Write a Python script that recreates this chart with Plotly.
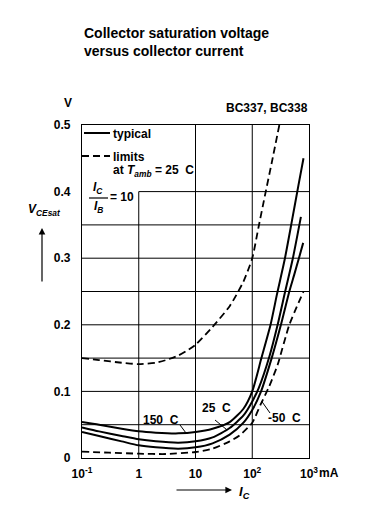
import plotly.graph_objects as go

# ---------------- data ----------------
IC_150 = [0.1, 0.2, 0.5, 1, 2, 5, 10, 20, 40, 70, 100, 145, 210, 273, 373, 500, 650, 800]
V_150 = [0.054, 0.050, 0.044, 0.040, 0.038, 0.037, 0.039, 0.044, 0.054, 0.074, 0.100, 0.150, 0.200, 0.246, 0.298, 0.356, 0.409, 0.450]

IC_25 = [0.1, 0.2, 0.5, 1, 2, 5, 10, 20, 40, 70, 100, 130, 200, 280, 380, 520, 720]
V_25 = [0.046, 0.040, 0.033, 0.028, 0.025, 0.023, 0.025, 0.031, 0.045, 0.064, 0.085, 0.105, 0.152, 0.200, 0.250, 0.300, 0.362]

IC_M50 = [0.1, 0.2, 0.5, 1, 2, 5, 10, 20, 40, 70, 100, 140, 220, 320, 450, 548, 664, 790]
V_M50 = [0.039, 0.033, 0.025, 0.019, 0.016, 0.014, 0.016, 0.022, 0.035, 0.053, 0.072, 0.098, 0.150, 0.200, 0.250, 0.275, 0.300, 0.323]

IC_LIM_LO = [0.1, 0.3, 1, 3, 10, 20, 40, 60, 100, 140, 200, 280, 450, 800]
V_LIM_LO = [0.0095, 0.008, 0.0065, 0.006, 0.009, 0.014, 0.025, 0.034, 0.053, 0.080, 0.108, 0.140, 0.200, 0.250]

IC_LIM_HI = [0.1, 0.2, 0.5, 1, 2, 3, 5, 7, 10, 20, 40, 70, 100, 130, 170, 220, 300]
V_LIM_HI = [0.150, 0.147, 0.143, 0.141, 0.143, 0.147, 0.154, 0.161, 0.170, 0.197, 0.228, 0.265, 0.300, 0.348, 0.397, 0.443, 0.500]

X_TICKS = [0.1, 1, 10, 100, 1000]
X_TICK_TEXT = ["10<sup>-1</sup>", "1", "10", "10<sup>2</sup>", "10<sup>3</sup>"]
Y_TICKS = [0, 0.1, 0.2, 0.3, 0.4, 0.5]
Y_TICK_TEXT = ["0", "0.1", "0.2", "0.3", "0.4", "0.5"]

GRID_X_FULL = [10, 100]          # full-height vertical grid lines
GRID_X_PART = [1]                # vertical line stopping at the legend box
GRID_Y_FULL = [0.05, 0.1, 0.15, 0.2, 0.25, 0.3, 0.35]
GRID_Y_PART = [0.4]              # horizontal line starting right of the legend box
X_MIN, X_MAX = 0.1, 1000
Y_MIN, Y_MAX = 0.0, 0.5
LEGEND_BOX_X, LEGEND_BOX_Y = 1, 0.4

# ---------------- geometry helpers ----------------
OFF = 8                       # default page margin of the html body
W, H = 374 - OFF, 528 - OFF
PLOT_L, PLOT_R, PLOT_T, PLOT_B = 82, 309, 125, 458   # page pixels
ML, MR, MT, MB = PLOT_L - OFF, W - (PLOT_R - OFF), PLOT_T - OFF, H - (PLOT_B - OFF)
PW, PH = W - ML - MR, H - MT - MB


def px(x):
    return (x - OFF - ML) / PW


def py(y):
    return (H - MB - (y - OFF)) / PH


FAM = "Liberation Sans, Arial, Helvetica, sans-serif"


def font(size=12):
    return dict(family=FAM, size=size, color="black", weight="bold")


fig = go.Figure()

SOLID = dict(color="black", width=2, shape="spline", smoothing=0.6)
DASHED = dict(color="black", width=1.8, dash="7px,4px", shape="spline", smoothing=0.6)

for xs, ys, ln in [
    (IC_LIM_HI, V_LIM_HI, DASHED),
    (IC_LIM_LO, V_LIM_LO, DASHED),
    (IC_150, V_150, SOLID),
    (IC_25, V_25, SOLID),
    (IC_M50, V_M50, SOLID),
]:
    fig.add_trace(go.Scatter(x=xs, y=ys, mode="lines", line=ln,
                             showlegend=False, hoverinfo="skip"))

shapes = []
GRID = dict(color="black", width=1)
for gx in GRID_X_FULL:
    shapes.append(dict(type="line", xref="x", yref="y", x0=gx, x1=gx,
                       y0=Y_MIN, y1=Y_MAX, line=GRID, layer="below"))
for gx in GRID_X_PART:
    shapes.append(dict(type="line", xref="x", yref="y", x0=gx, x1=gx,
                       y0=Y_MIN, y1=LEGEND_BOX_Y, line=GRID, layer="below"))
for gy in GRID_Y_FULL:
    shapes.append(dict(type="line", xref="x", yref="y", x0=X_MIN, x1=X_MAX,
                       y0=gy, y1=gy, line=GRID, layer="below"))
for gy in GRID_Y_PART:
    shapes.append(dict(type="line", xref="x", yref="y", x0=LEGEND_BOX_X, x1=X_MAX,
                       y0=gy, y1=gy, line=GRID, layer="below"))


def pline(x0, y0, x1, y1, width=1, dash=None):
    ln = dict(color="black", width=width)
    if dash:
        ln["dash"] = dash
    shapes.append(dict(type="line", xref="paper", yref="paper",
                       x0=px(x0), y0=py(y0), x1=px(x1), y1=py(y1), line=ln))


# legend samples
pline(84, 133, 110, 133, width=2)
pline(82, 156, 110, 156, width=1.8, dash="7px,4px")
# fraction bar
pline(89, 198, 108, 198, width=1.2)
# label pointers
pline(180, 425, 186, 433, width=1)
pline(215, 420, 226.5, 429.5, width=1)
pline(261.5, 401, 270, 413, width=1)

ann = []


def text(x, y, s, size=12, xanchor="center"):
    ann.append(dict(x=px(x), y=py(y), xref="paper", yref="paper", text=s,
                    showarrow=False, xanchor=xanchor, yanchor="middle",
                    font=font(size)))


text(82, 33.5, "Collector saturation voltage", 14, "left")
text(82, 50.5, "versus collector current", 14, "left")
text(310, 108, "BC337, BC338", 12, "right")
text(68, 103, "V", 12)
text(44, 210, "<i>V</i><sub><i>CEsat</i></sub>", 12)
text(244, 492, "<i>I</i><sub><i>C</i></sub>", 13)
text(317, 473, "mA", 12, "left")
text(111, 134, "typical", 12, "left")
text(111, 157, "limits", 12, "left")
text(111, 171, "at <i>T</i><sub><i>amb</i></sub> = 25\u00a0\u00a0C", 12, "left")
text(98, 188, "<i>I</i><sub><i>C</i></sub>", 12)
text(98, 207, "<i>I</i><sub><i>B</i></sub>", 12)
text(108, 197, "= 10", 12, "left")
text(161, 419.5, "150\u00a0\u00a0C", 12)
text(216, 407.5, "25\u00a0\u00a0C", 12)
text(284, 418, "-50\u00a0\u00a0C", 12)

# axis arrows
ann.append(dict(x=px(42), y=py(228), xref="paper", yref="paper", text="",
                showarrow=True, ax=0, ay=55, axref="pixel", ayref="pixel",
                arrowhead=2, arrowsize=1.1, arrowwidth=1.2, arrowcolor="black",
                standoff=0, startstandoff=0))
ann.append(dict(x=px(232), y=py(490), xref="paper", yref="paper", text="",
                showarrow=True, ax=-57, ay=0, axref="pixel", ayref="pixel",
                arrowhead=2, arrowsize=1.1, arrowwidth=1.2, arrowcolor="black",
                standoff=0, startstandoff=0))

AX = dict(showgrid=False, zeroline=False, showline=True, mirror=True,
          linecolor="black", linewidth=1.3, ticks="", tickfont=font(12))

fig.update_layout(
    width=W, height=H,
    margin=dict(l=ML, r=MR, t=MT, b=MB, autoexpand=False),
    paper_bgcolor="white", plot_bgcolor="white",
    xaxis=dict(type="log", range=[-1, 3], tickvals=X_TICKS,
               ticktext=X_TICK_TEXT, ticklabelstandoff=4, **AX),
    yaxis=dict(range=[Y_MIN, Y_MAX], tickvals=Y_TICKS, ticktext=Y_TICK_TEXT,
               ticklabelstandoff=8, **AX),
    shapes=shapes, annotations=ann, showlegend=False,
)

fig.write_html("out.html")
